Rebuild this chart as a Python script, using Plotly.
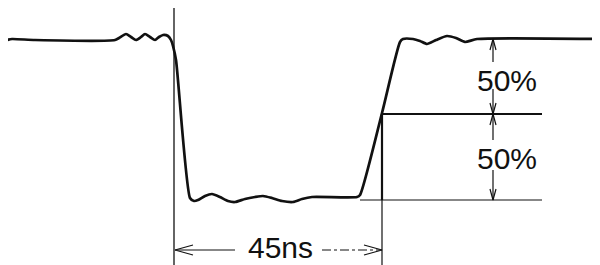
import plotly.graph_objects as go

# Waveform trace (diagram units: x = time position, y = screen level, downward positive)
wave_t = [7, 12, 35, 115, 119, 126, 131, 136, 141, 145, 150, 155, 159, 163, 168, 171, 173, 176,
          190, 194, 198, 205, 212, 220, 228, 235, 245, 255, 263, 272, 282, 293, 302, 312, 357, 360,
          382, 400, 403, 413, 420, 427, 436, 447, 456, 465, 477, 600]
wave_v = [40, 39, 40, 40, 38, 34, 37, 40, 37, 34, 37, 40, 37, 35, 36, 40, 46, 60,
          198, 201, 200, 196, 194, 197, 201, 202, 199, 197, 196, 198, 201, 202, 199, 197, 197, 195,
          113, 42, 39, 39, 41, 44, 40, 36, 38, 42, 39, 39]

# Reference levels / markers
level_high = 39
level_mid = 114
level_low = 200
t_fall = 174      # start reference vertical
t_cross = 382     # 50% crossing
t_ref_end = 542
t_base_start = 360
t_dim = 493       # vertical dimension arrows position
y_dim = 250       # horizontal dimension arrow position
label_pct = "50%"
label_time = "45ns"

BLACK = "#111111"
fig = go.Figure()

def seg(xs, ys, w=1.2, dash="solid", shape="linear"):
    fig.add_trace(go.Scatter(x=xs, y=ys, mode="lines",
                             line=dict(color=BLACK, width=w, dash=dash, shape=shape,
                                       smoothing=0.6 if shape == "spline" else None),
                             hoverinfo="skip", showlegend=False))

# waveform
seg(wave_t, wave_v, w=2.7, shape="spline")
# vertical reference at falling edge
seg([t_fall, t_fall], [8, 265], w=1.3)
# vertical at 50% crossing
seg([t_cross, t_cross], [level_mid, level_low], w=2.2)
seg([t_cross, t_cross], [level_low, 265], w=1.2)
# mid level line
seg([t_cross, t_ref_end], [level_mid, level_mid], w=2.2)
# baseline
seg([t_base_start, t_ref_end], [level_low, level_low], w=1.2)

def vhead(x, y, direction, L=11, hw=3):
    # direction -1: pointing up (tip at y), +1: pointing down
    yb = y - direction * L
    seg([x - hw, x, x + hw], [yb, y, yb], w=1.2)

def hhead(x, y, direction, L=18, hw=5):
    xb = x - direction * L
    seg([xb, x, xb], [y - hw, y, y + hw], w=1.2)

# vertical dimension arrows
seg([t_dim, t_dim], [level_high, 62], w=1.2)
vhead(t_dim, level_high, -1)
seg([t_dim, t_dim], [89, level_mid], w=1.2)
vhead(t_dim, level_mid, 1)
seg([t_dim, t_dim], [level_mid, 140], w=1.2)
vhead(t_dim, level_mid, -1)
seg([t_dim, t_dim], [170, level_low], w=1.2)
vhead(t_dim, level_low, 1)

# horizontal dimension arrow
seg([t_fall + 1, 235], [y_dim, y_dim], w=1.2)
hhead(t_fall + 1, y_dim, -1)
seg([322, t_cross], [y_dim, y_dim], w=1.2, dash="dashdot")
hhead(t_cross, y_dim, 1)

font = dict(family="Liberation Sans, Arial, Helvetica, sans-serif", size=30, color=BLACK)
fig.add_annotation(x=507, y=80, text=label_pct, showarrow=False, font=font,
                   xanchor="center", yanchor="middle", borderpad=0)
fig.add_annotation(x=507, y=158, text=label_pct, showarrow=False, font=font,
                   xanchor="center", yanchor="middle", borderpad=0)
fig.add_annotation(x=280, y=247.5, text=label_time, showarrow=False, font=font,
                   xanchor="center", yanchor="middle", borderpad=0)

# page body has an 8px margin; offset the ranges so diagram units map to window pixels
fig.update_layout(
    width=600, height=265,
    margin=dict(l=0, r=0, t=0, b=0),
    paper_bgcolor="white", plot_bgcolor="white",
    xaxis=dict(range=[8, 608], visible=False, fixedrange=True),
    yaxis=dict(range=[273, 8], visible=False, fixedrange=True),
    showlegend=False,
)
fig.write_html("out.html")
